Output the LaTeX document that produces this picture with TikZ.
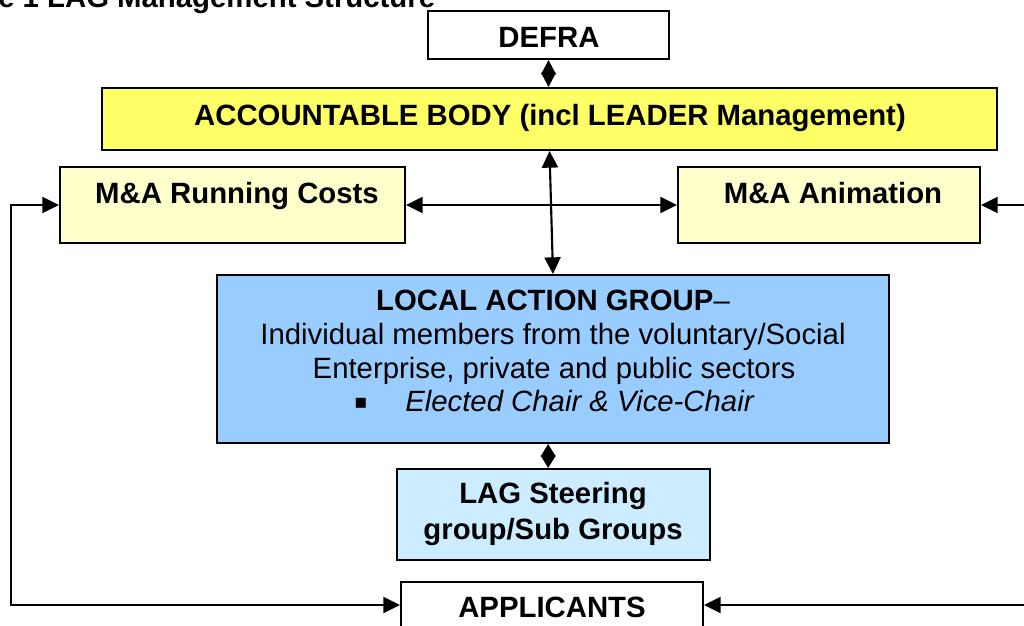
\documentclass[tikz,border=0pt]{standalone}
\usepackage{fontspec}
\setmainfont{Liberation Sans}
\newfontfamily\dejavu{DejaVu Sans}
\usetikzlibrary{arrows.meta,fit}
\definecolor{abyellow}{HTML}{FFFF66}
\definecolor{mayellow}{HTML}{FFFFCC}
\definecolor{lagblue}{HTML}{99CCFF}
\definecolor{stblue}{HTML}{CCECFF}
\tikzset{
  ah/.tip={Triangle[length=12.5pt,width=12pt]},
  dtipa/.tip={Triangle[length=10.8pt,width=11pt]},
  dtipb/.tip={Triangle[length=9.3pt,width=11pt]},
}
\begin{document}
\begin{tikzpicture}[x=0.75pt,y=-0.75pt,
  box/.style={draw=black, line width=1.5pt, inner sep=0pt},
  txt/.style={font=\fontsize{22}{26}\selectfont, anchor=base, inner sep=0pt},
  btxt/.style={txt, font=\fontsize{22}{26}\selectfont\bfseries},
  conn/.style={line width=1.4pt},
]
\useasboundingbox (0,0) rectangle (1024,625);
\clip (0,0) rectangle (1024,625);

% title (cut off at the top-left)
\node[btxt, anchor=base west] (title) at (-2,7) {e 1 LAG Management Structure};

% boxes
\node[box, fill=white,    fit={(428,11)(669,59)}]   (defra) {};
\node[box, fill=abyellow, fit={(102,88)(997,150)}]  (ab)    {};
\node[box, fill=mayellow, fit={(60,167)(405,243)}]  (rc)    {};
\node[box, fill=mayellow, fit={(678,167)(980,243)}] (anim)  {};
\node[box, fill=lagblue,  fit={(217,275)(889,443)}] (lag)   {};
\node[box, fill=stblue,   fit={(397,469)(710,560)}] (steer) {};
\node[box, fill=white,    fit={(401,582)(703,628)}] (app)   {};

% texts
\node[btxt] (tdefra) at (549,47) {DEFRA};
\node[btxt] (tab) at (550,125) {ACCOUNTABLE BODY (incl LEADER Management)};
\node[btxt] (trc) at (237,203) {M\&A Running Costs};
\node[btxt] (tanim) at (833,203) {M\&A Animation};
\node[txt] (lag1) at (553,310) {{\bfseries LOCAL ACTION GROUP}–};
\node[txt] (lag2) at (553,344) {Individual members from the voluntary/Social};
\node[txt] (lag3) at (554,378) {Enterprise, private and public sectors};
\node[txt, font=\fontsize{15}{18}\dejavu] (bul) at (361,408) {▪};
\node[txt, anchor=base west, font=\fontsize{22}{26}\selectfont\itshape] (lag4) at (405,411) {Elected Chair \& Vice-Chair};
\node[btxt] (tst1) at (553,503) {LAG Steering};
\node[btxt] (tst2) at (553,539) {group/Sub Groups};
\node[btxt] (tapp) at (552,617) {APPLICANTS};

% connectors
\coordinate (farR) at (1045,0);
\draw[conn, {ah}-{ah}] (rc.east) -- (anim.west);
\draw[conn, {ah}-{ah}] (rc.west) -- ++(-48,0) |- (app.west);
\draw[conn, {ah}-{ah}] (anim.east) -- (anim.east -| farR) |- (app.east);
\draw[line width=1.6pt, {ah}-{ah}] (ab.south) -- (lag.north);
\draw[conn, {dtipa}-{dtipa}] (defra.south) -- (defra.south |- ab.north);
\draw[conn, {dtipb}-{dtipb}] ([xshift=-4pt]steer.north) -- ([xshift=-4pt]steer.north |- lag.south);
\end{tikzpicture}
\end{document}
